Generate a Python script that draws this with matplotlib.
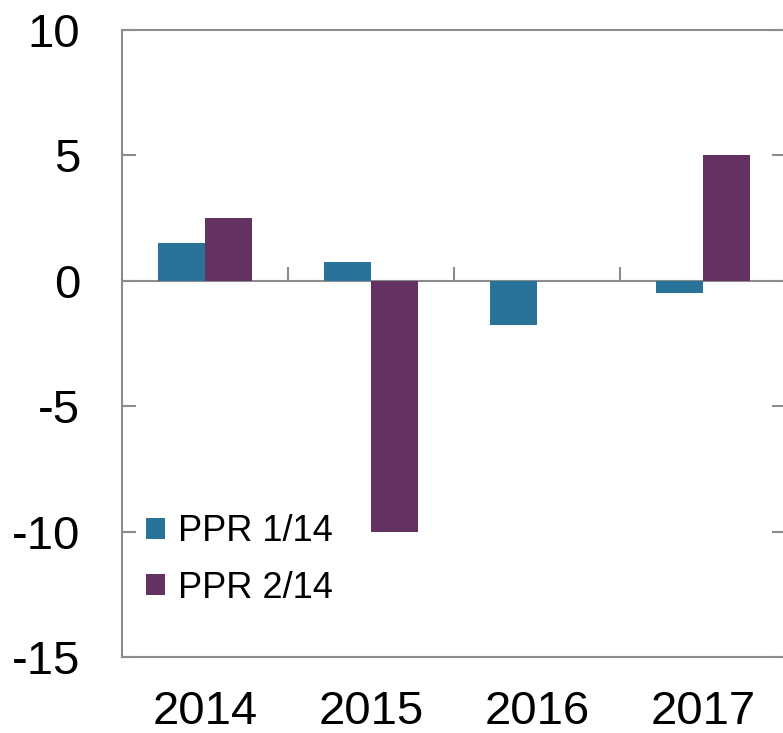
import numpy as np
import matplotlib.pyplot as plt

plt.rcParams['font.family'] = ['Liberation Sans', 'DejaVu Sans']

years = ['2014', '2015', '2016', '2017']
ppr1 = [1.5, 0.75, -1.75, -0.5]
ppr2 = [2.5, -10.0, 0.0, 5.0]
labels = ['PPR 1/14', 'PPR 2/14']

teal = '#2A7398'
purple = '#633261'
grey = '#8C8C8C'

fig = plt.figure(figsize=(7.83, 7.33), dpi=100)
ax = fig.add_axes([0.1558, 0.1037, 0.848, 0.8553])

x = np.arange(len(years))
w = 0.283
ax.bar(x - w / 2, ppr1, w, color=teal, label=labels[0], zorder=3)
ax.bar(x + w / 2, ppr2, w, color=purple, label=labels[1], zorder=3)

ax.set_xlim(-0.5, len(years) - 0.5)
ax.set_ylim(-15, 10)
ax.set_yticks([10, 5, 0, -5, -10, -15])
ax.set_yticklabels(['10', '5', '0', '-5', '-10', '-15'])

# zero line and category separators
ax.axhline(0, color=grey, lw=1.5, zorder=2)
ax.vlines(x[:-1] + 0.5, 0, 0.56, color=grey, lw=1.5, zorder=2)

ax.set_xticks(x)
ax.set_xticklabels(years)
ax.tick_params(axis='x', length=0, pad=24, labelsize=34)
ax.tick_params(axis='y', direction='in', length=10, width=1.5, color=grey,
               pad=30, labelsize=34, right=True)

for s in ['left', 'top', 'bottom', 'right']:
    ax.spines[s].set_color(grey)
    ax.spines[s].set_linewidth(1.5)

ax.legend(loc='center left', bbox_to_anchor=(0.014, 0.155), frameon=False,
          fontsize=26, handlelength=0.52, handleheight=0.52,
          handletextpad=0.36, labelspacing=0.6, borderaxespad=0)

plt.savefig('out.png', dpi=100)
